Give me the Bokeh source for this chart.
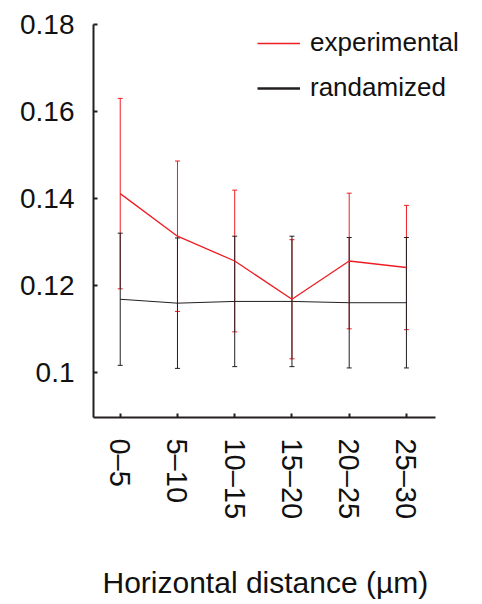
import math

from bokeh.embed import file_html
from bokeh.models import (ColumnDataSource, FixedTicker, Legend, LegendItem,
                          Range1d, TeeHead, Title, Whisker)
from bokeh.plotting import figure
from bokeh.resources import INLINE

# Distance bins along the horizontal axis
categories = ["0\u20135", "5\u201310", "10\u201315", "15\u201320", "20\u201325", "25\u201330"]

# Experimental series: mean and error half-width per bin
exp_mean = [0.1411, 0.1313, 0.1256, 0.1168, 0.1256, 0.1241]
exp_err = [0.0219, 0.0173, 0.0163, 0.0137, 0.0156, 0.0143]

# Randomized series: mean and error half-width per bin
rnd_mean = [0.1168, 0.1159, 0.1163, 0.1163, 0.1160, 0.1160]
rnd_err = [0.0152, 0.0150, 0.0150, 0.0150, 0.0150, 0.0150]

y_ticks = [0.1, 0.12, 0.14, 0.16, 0.18]
y_tick_labels = ["0.1", "0.12", "0.14", "0.16", "0.18"]

RED = "#ee1d23"
BLACK = "#231f20"
FONT = "Liberation Sans"

xs = list(range(1, len(categories) + 1))
X_AXIS_BOUNDS = (0.533, 6.507)

exp_src = ColumnDataSource(dict(
    x=xs, y=exp_mean,
    lo=[m - e for m, e in zip(exp_mean, exp_err)],
    hi=[m + e for m, e in zip(exp_mean, exp_err)],
))
rnd_src = ColumnDataSource(dict(
    x=xs, y=rnd_mean,
    lo=[m - e for m, e in zip(rnd_mean, rnd_err)],
    hi=[m + e for m, e in zip(rnd_mean, rnd_err)],
))

# The frame reaches further right than the x axis line so the legend text fits
p = figure(
    width=482, height=604,
    x_range=Range1d(X_AXIS_BOUNDS[0], 7.224),
    y_range=Range1d(0.0896, 0.18),
    output_backend="svg", toolbar_location=None,
    min_border_left=93, min_border_right=6,
    min_border_top=24, min_border_bottom=187,
)
p.outline_line_color = None
p.xgrid.visible = False
p.ygrid.visible = False
p.background_fill_color = "white"
p.border_fill_color = "white"

# Error bars: red first, black drawn over it
for src, col in ((exp_src, RED), (rnd_src, BLACK)):
    w = Whisker(
        source=src, base="x", lower="lo", upper="hi", dimension="height",
        line_color=col, line_width=1,
        lower_head=TeeHead(size=5, line_color=col, line_width=1),
        upper_head=TeeHead(size=5, line_color=col, line_width=1),
    )
    p.add_layout(w)

p.line("x", "y", source=rnd_src, line_color=BLACK, line_width=1)
p.line("x", "y", source=exp_src, line_color=RED, line_width=1.3)

# Legend swatches (no visible data of their own)
nan = float("nan")
leg_exp = p.line([nan], [nan], line_color=RED, line_width=1.5)
leg_rnd = p.line([nan], [nan], line_color=BLACK, line_width=2.5)
legend = Legend(
    items=[LegendItem(label="experimental", renderers=[leg_exp]),
           LegendItem(label="randamized", renderers=[leg_rnd])],
    location=(164, 314),
    padding=0, margin=0, spacing=14,
    glyph_width=43, glyph_height=30, label_height=30, label_standoff=10,
    border_line_color=None, background_fill_alpha=0,
    label_text_font=FONT, label_text_font_size="26px", label_text_color="#111111",
)
p.add_layout(legend)

# Axes
for ax in (p.xaxis, p.yaxis):
    ax.axis_line_color = BLACK
    ax.axis_line_width = 2
    ax.major_tick_line_color = BLACK
    ax.major_tick_line_width = 2
    ax.major_tick_out = 0
    ax.minor_tick_line_color = None
    ax.major_label_text_font = FONT
    ax.major_label_text_color = "#111111"

p.yaxis.ticker = FixedTicker(ticks=y_ticks)
p.yaxis.major_label_overrides = dict(zip(y_ticks, y_tick_labels))
p.yaxis.major_tick_in = 4
p.yaxis.major_label_standoff = 19
p.yaxis.major_label_text_font_size = "28px"

p.xaxis.bounds = X_AXIS_BOUNDS
p.xaxis.ticker = FixedTicker(ticks=xs)
p.xaxis.major_label_overrides = dict(zip(xs, categories))
p.xaxis.major_tick_in = 4
p.xaxis.major_label_standoff = 21
p.xaxis.major_label_orientation = -math.pi / 2
p.xaxis.major_label_text_font_size = "29px"

# Gap between the tick labels and the x-axis title
p.add_layout(Title(text=" ", text_font_size="1px", standoff=38), "below")

# x-axis title, left-aligned so it sits under the axis line rather than the wider frame
x_title = Title(
    text="Horizontal distance (\u00b5m)", align="left", offset=9, standoff=0,
    text_font=FONT, text_font_style="normal", text_font_size="30px",
    text_color="#111111",
)
p.add_layout(x_title, "below")

open("out.html", "w").write(file_html(p, INLINE))
